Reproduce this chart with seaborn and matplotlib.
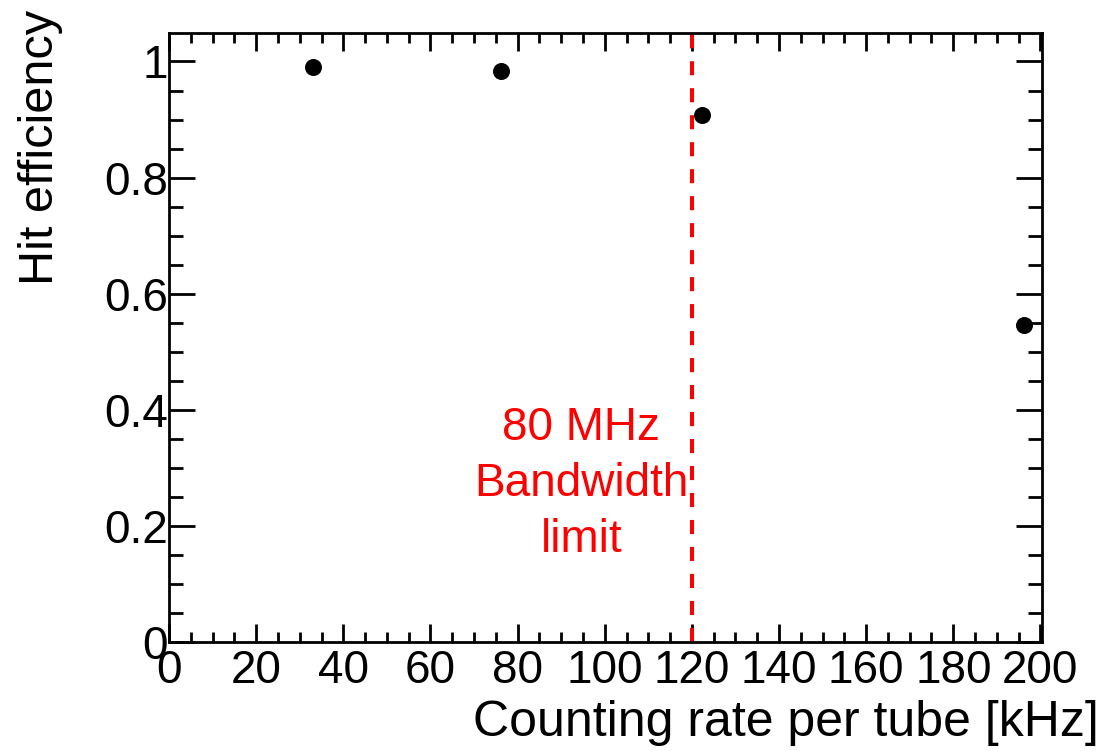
import numpy as np
import seaborn as sns
from matplotlib import pyplot as plt
from matplotlib.ticker import MultipleLocator, FuncFormatter

# hit efficiency vs rate
rate_khz = [33.1, 76.1, 122.3, 196.3]
hit_eff = [0.991, 0.984, 0.908, 0.546]

band_limit = 120  # kHz, where the 80 MHz readout saturates
band_text = "80 MHz\nBandwidth\nlimit"

sns.set_style("ticks")
plt.rcParams['font.family'] = ['Liberation Sans', 'DejaVu Sans']

fig = plt.figure(figsize=(11.02, 7.51), dpi=100)
ax = fig.add_axes([0.1534, 0.1451, 0.7919, 0.8109])

sns.scatterplot(x=rate_khz, y=hit_eff, color="black", s=150, edgecolor=None,
                linewidth=0, ax=ax, zorder=3)

ax.axvline(band_limit, color="red", lw=2.9, linestyle=(0, (3.5, 3.2)), zorder=2)
ax.text(94.6, 0.272, band_text, color="red", fontsize=33, ha="center",
        va="center", linespacing=1.35)

ax.set_xlim(0, 200.3)
ax.set_ylim(0, 1.049)

ax.xaxis.set_major_locator(MultipleLocator(20))
ax.xaxis.set_minor_locator(MultipleLocator(5))
ax.yaxis.set_major_locator(MultipleLocator(0.2))
ax.yaxis.set_minor_locator(MultipleLocator(0.05))
ax.yaxis.set_major_formatter(FuncFormatter(lambda v, p: f"{v:g}"))

# ROOT style: ticks inside on all four sides
ax.tick_params(axis="both", which="both", direction="in", top=True, right=True,
               width=2, labelsize=33, colors="black")
ax.tick_params(axis="x", which="major", length=13, pad=5)
ax.tick_params(axis="x", which="minor", length=7)
ax.tick_params(axis="y", which="major", length=19, pad=1)
ax.tick_params(axis="y", which="minor", length=10)
for sp in ax.spines.values():
    sp.set_linewidth(2)
    sp.set_color("black")

ax.set_xlabel("Counting rate per tube [kHz]", fontsize=36, loc="right", color="black")
ax.xaxis.set_label_coords(1.066, -0.095)
ax.set_ylabel("Hit efficiency", fontsize=35, loc="top", color="black")
ax.yaxis.set_label_coords(-0.122, 1.038)

fig.savefig("out.png", dpi=100)
